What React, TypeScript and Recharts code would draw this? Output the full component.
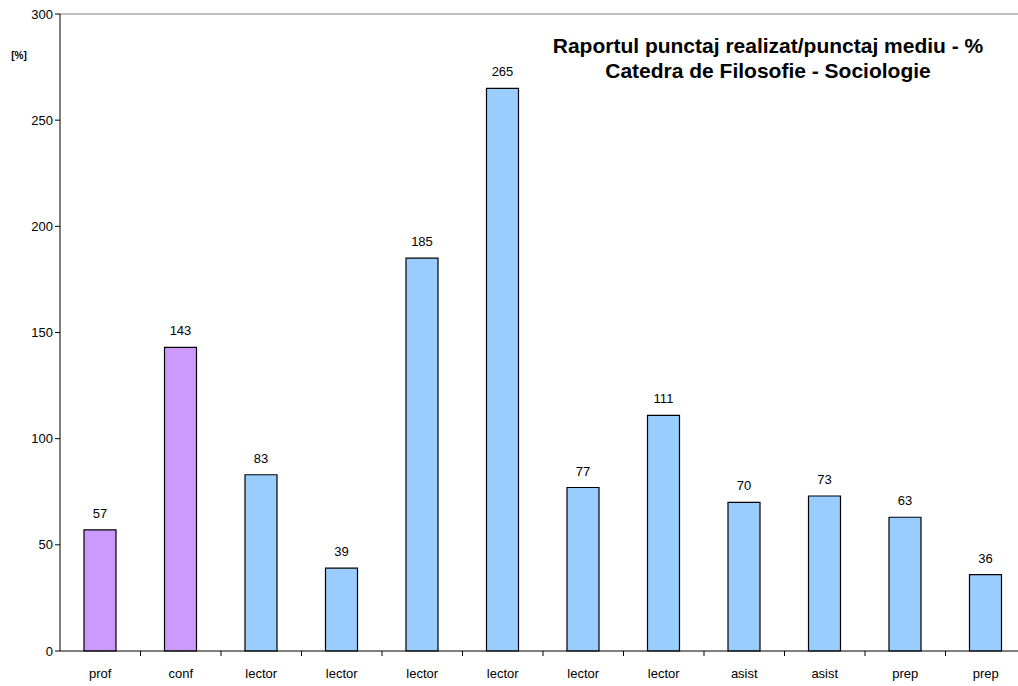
import React from "react";
import { BarChart, Bar, XAxis, YAxis, Cell, LabelList, ReferenceLine } from "recharts";

// Raportul punctaj realizat / punctaj mediu (%), per cadru didactic
const ranks = ["prof", "conf", "lector", "lector", "lector", "lector", "lector", "lector", "asist", "asist", "prep", "prep"];
const ratios = [57, 143, 83, 39, 185, 265, 77, 111, 70, 73, 63, 36];
const yTicks = [0, 50, 100, 150, 200, 250, 300];

const PURPLE = "#CC99FF";
const BLUE = "#99CCFF";

const data = ranks.map((rank, i) => ({ id: `c${i}`, rank, value: ratios[i] }));

const BAND = 80.5;

const RankTick = (props: any) => {
  const { x, y, payload } = props;
  const idx = payload.index;
  return (
    <g>
      {idx > 0 && <line x1={x - BAND / 2} x2={x - BAND / 2} y1={y} y2={y + 5} stroke="#000" />}
      <text x={x} y={y + 27} textAnchor="middle" fontSize={13} fill="#000">
        {ranks[idx]}
      </text>
    </g>
  );
};

const App = () => {
  return (
    <div
      style={{
        position: "absolute",
        left: 0,
        top: 0,
        width: 1018,
        height: 686,
        overflow: "hidden",
        background: "#fff",
        fontFamily: "'Liberation Sans', Arial, sans-serif",
      }}
    >
      <BarChart
        width={1030}
        height={686}
        data={data}
        margin={{ top: 14, right: 4, left: 0, bottom: 0 }}
        barSize={32}
      >
        <XAxis
          dataKey="id"
          axisLine={{ stroke: "#000" }}
          tickLine={false}
          tickSize={0}
          tickMargin={0}
          height={35}
          interval={0}
          tick={<RankTick />}
        />
        <YAxis
          domain={[0, 300]}
          ticks={yTicks}
          width={60}
          axisLine={{ stroke: "#000" }}
          tickLine={{ stroke: "#000" }}
          tickSize={5}
          tick={{ fill: "#000", fontSize: 13 }}
        />
        <ReferenceLine y={300} stroke="#808080" />
        <Bar dataKey="value" stroke="#000" strokeWidth={1.2} isAnimationActive={false}>
          {data.map((d, i) => (
            <Cell key={d.id} fill={i < 2 ? PURPLE : BLUE} />
          ))}
          <LabelList dataKey="value" position="top" offset={12} fill="#000" fontSize={13} />
        </Bar>
        <text x={19} y={59} textAnchor="middle" fontSize={10} fontWeight="bold" fill="#000">
          [%]
        </text>
        <text x={768} y={53} textAnchor="middle" fontSize={21} fontWeight="bold" fill="#000">
          Raportul punctaj realizat/punctaj mediu - %
        </text>
        <text x={768} y={78} textAnchor="middle" fontSize={21} fontWeight="bold" fill="#000">
          Catedra de Filosofie - Sociologie
        </text>
      </BarChart>
    </div>
  );
};

export default App;
